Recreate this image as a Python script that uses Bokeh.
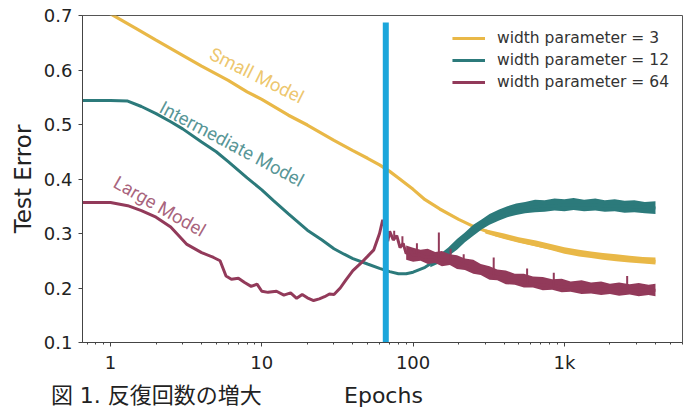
from bokeh.plotting import figure
from bokeh.models import (Range1d, FixedTicker, CustomJSTickFormatter, LogAxis, Legend,
                          LegendItem, ColumnDataSource)
from bokeh.core.properties import value
from bokeh.embed import file_html
from bokeh.resources import INLINE

# ---------------- data ----------------
yellow_epochs = [0.85, 1, 1.5, 2, 3, 4, 6, 8, 10, 15, 20, 30, 40, 50, 60, 70, 80, 100, 120, 150,
                 200, 250, 350, 500, 700, 1000, 1500, 2000, 3000, 4000]
yellow_err = [0.715, 0.703, 0.675, 0.655, 0.627, 0.607, 0.581, 0.560, 0.546, 0.517, 0.499, 0.471,
              0.452, 0.438, 0.426, 0.414, 0.402, 0.381, 0.362, 0.345, 0.326, 0.313, 0.298, 0.287,
              0.277, 0.268, 0.260, 0.256, 0.252, 0.249]
yellow_band_epochs = [300, 400, 500, 650, 800, 1000, 1250, 1500, 1800, 2200, 2700, 3300, 4000]
yellow_band_lo = [0.300, 0.290, 0.283, 0.276, 0.270, 0.263, 0.258, 0.255, 0.252, 0.249, 0.247,
                  0.245, 0.243]
yellow_band_hi = [0.308, 0.300, 0.293, 0.287, 0.281, 0.275, 0.270, 0.267, 0.264, 0.262, 0.259,
                  0.257, 0.256]

teal_epochs = [0.65, 1, 1.3, 1.6, 2, 2.5, 3, 4, 5, 6, 8, 10, 12, 15, 20, 25, 30, 35, 40, 50, 60,
               70, 80, 90, 100, 120, 140, 170, 200, 250, 300, 400, 500, 700, 1000, 1500, 2000,
               3000, 4000]
teal_err = [0.544, 0.544, 0.543, 0.533, 0.520, 0.505, 0.492, 0.468, 0.450, 0.432, 0.402, 0.380,
            0.360, 0.336, 0.306, 0.288, 0.272, 0.262, 0.254, 0.244, 0.236, 0.230, 0.226, 0.226,
            0.229, 0.238, 0.250, 0.266, 0.280, 0.306, 0.322, 0.340, 0.346, 0.350, 0.352, 0.352,
            0.351, 0.349, 0.347]
teal_band_epochs = [130, 150, 170, 195, 220, 250, 285, 320, 370, 420, 480, 550, 640, 740, 860,
                    1000, 1150, 1350, 1600, 1850, 2150, 2500, 2900, 3400, 4000]
teal_band_lo = [0.238, 0.246, 0.258, 0.270, 0.284, 0.296, 0.308, 0.316, 0.324, 0.330, 0.334,
                0.337, 0.339, 0.340, 0.342, 0.341, 0.343, 0.341, 0.342, 0.340, 0.341, 0.338,
                0.339, 0.337, 0.336]
teal_band_hi = [0.250, 0.262, 0.274, 0.290, 0.302, 0.316, 0.326, 0.336, 0.344, 0.350, 0.355,
                0.358, 0.362, 0.361, 0.364, 0.363, 0.365, 0.362, 0.364, 0.361, 0.363, 0.360,
                0.361, 0.358, 0.359]

maroon_epochs = [0.65, 1, 1.3, 1.6, 2, 2.5, 3.2, 4, 4.8, 5.3, 5.8, 6.3, 7, 7.7, 8.5, 9.3, 10, 11,
                 12.5, 14, 15.5, 17, 18.5, 20, 22, 24, 26, 28, 30, 33, 36, 40, 45, 50, 55, 60, 63,
                 66, 68, 70, 74, 78, 82, 86, 90, 95, 100, 110, 120, 135, 150, 170, 200, 250, 320,
                 420, 600, 800, 1200, 2000, 3000, 4000]
maroon_err = [0.357, 0.357, 0.351, 0.342, 0.330, 0.312, 0.280, 0.265, 0.256, 0.250, 0.222, 0.216,
              0.218, 0.210, 0.203, 0.207, 0.194, 0.192, 0.194, 0.187, 0.191, 0.181, 0.188, 0.182,
              0.177, 0.180, 0.184, 0.189, 0.188, 0.200, 0.215, 0.232, 0.245, 0.258, 0.270, 0.300,
              0.325, 0.308, 0.286, 0.304, 0.288, 0.296, 0.274, 0.282, 0.263, 0.270, 0.260, 0.262,
              0.256, 0.257, 0.252, 0.250, 0.246, 0.237, 0.224, 0.216, 0.208, 0.204, 0.200, 0.198,
              0.196, 0.196]
maroon_band_epochs = [90, 100, 112, 125, 140, 155, 175, 195, 220, 250, 280, 320, 360, 410, 470,
                      540, 620, 720, 830, 960, 1100, 1300, 1500, 1750, 2000, 2300, 2700, 3100,
                      3600, 4000]
maroon_band_lo = [0.252, 0.248, 0.250, 0.244, 0.246, 0.240, 0.242, 0.235, 0.233, 0.226, 0.224,
                  0.215, 0.214, 0.207, 0.206, 0.201, 0.201, 0.196, 0.197, 0.192, 0.193, 0.189,
                  0.190, 0.187, 0.189, 0.186, 0.188, 0.185, 0.187, 0.185]
maroon_band_hi = [0.278, 0.274, 0.270, 0.272, 0.266, 0.268, 0.262, 0.260, 0.254, 0.252, 0.244,
                  0.240, 0.234, 0.232, 0.226, 0.226, 0.221, 0.220, 0.216, 0.217, 0.212, 0.214,
                  0.210, 0.212, 0.208, 0.210, 0.207, 0.209, 0.206, 0.208]
spike_epochs = [75, 85, 106, 148, 177, 216, 341, 567, 851, 2600]
spike_base = [0.29, 0.28, 0.262, 0.255, 0.25, 0.245, 0.222, 0.208, 0.203, 0.197]
spike_top = [0.305, 0.295, 0.282, 0.302, 0.272, 0.262, 0.256, 0.236, 0.228, 0.222]

marker_epoch = 66
marker_bottom = 0.1
marker_top = 0.687

legend_labels = ["width parameter = 3", "width parameter = 12", "width parameter = 64"]
curve_label_texts = ["Small Model", "Intermediate Model", "Large Model"]
curve_label_epochs = [4.6, 2.15, 1.07]
curve_label_errs = [0.631, 0.533, 0.396]
curve_label_angles = [-0.46, -0.49, -0.52]

x_major_ticks = [1, 10, 100, 1000]
y_ticks = [0.1, 0.2, 0.3, 0.4, 0.5, 0.6, 0.7]
x_title = "Epochs"
y_title = "Test Error"
caption = "図 1. 反復回数の増大"
caption_epoch = 2.01      # horizontal centre of the caption, in epochs
x_title_epoch = 63.7      # horizontal centre of the x title, in epochs

# ---------------- style ----------------
YELLOW = "#E9B847"
TEAL = "#2C7A7B"
MAROON = "#923A5A"
BLUE = "#1BA6DB"
TEXT = "#222222"

p = figure(width=684, height=410, x_axis_type="log",
           x_range=Range1d(0.653, 6035), y_range=Range1d(0.1, 0.7),
           output_backend="svg", toolbar_location=None,
           min_border_left=82, min_border_right=2, min_border_top=15, min_border_bottom=68)
p.background_fill_color = "white"
p.border_fill_color = "white"
p.outline_line_color = "#555555"
p.outline_line_width = 1
p.xgrid.visible = False
p.ygrid.visible = False

minor = [m * d for d in (0.1, 1, 10, 100, 1000) for m in range(2, 10)]
p.xaxis.ticker = FixedTicker(ticks=x_major_ticks, minor_ticks=minor)
p.xaxis.formatter = CustomJSTickFormatter(
    code="return tick >= 1000 ? Math.round(tick/1000) + 'k' : String(Math.round(tick));")
p.yaxis.ticker = FixedTicker(ticks=y_ticks)

for ax in (p.xaxis[0], p.yaxis[0]):
    ax.axis_line_color = "#444444"
    ax.major_tick_line_color = "#444444"
    ax.minor_tick_line_color = "#444444"
    ax.major_tick_in = 0
    ax.major_tick_out = 4
    ax.minor_tick_in = 0
    ax.minor_tick_out = 2
    ax.major_label_text_font = "DejaVu Sans"
    ax.major_label_text_font_size = "18px"
    ax.major_label_text_color = TEXT
p.xaxis.major_label_standoff = 5
p.yaxis.major_label_standoff = 6
p.yaxis.minor_tick_line_color = None
p.yaxis.axis_label = y_title
p.yaxis.axis_label_text_font = "DejaVu Sans"
p.yaxis.axis_label_text_font_size = "23px"
p.yaxis.axis_label_text_font_style = "normal"
p.yaxis.axis_label_text_color = TEXT
p.yaxis.axis_label_standoff = 5

# second, bare axis below: carries the x title and the figure caption side by side
cap_axis = LogAxis(ticker=FixedTicker(ticks=[caption_epoch, x_title_epoch], minor_ticks=[]),
                   major_label_overrides={caption_epoch: caption, x_title_epoch: x_title})
cap_axis.axis_line_color = None
cap_axis.major_tick_line_color = None
cap_axis.minor_tick_line_color = None
cap_axis.major_tick_out = 0
cap_axis.major_tick_in = 0
cap_axis.major_label_standoff = 7
cap_axis.major_label_text_font = "DejaVu Sans, Noto Sans CJK JP"
cap_axis.major_label_text_font_size = "22px"
cap_axis.major_label_text_color = TEXT
p.add_layout(cap_axis, "below")

# curves with their noisy envelopes
p.varea(x=yellow_band_epochs, y1=yellow_band_lo, y2=yellow_band_hi, fill_color=YELLOW)
r_y = p.line(yellow_epochs, yellow_err, line_width=3.2, line_color=YELLOW)
p.varea(x=teal_band_epochs, y1=teal_band_lo, y2=teal_band_hi, fill_color=TEAL)
r_t = p.line(teal_epochs, teal_err, line_width=3, line_color=TEAL)
p.varea(x=maroon_band_epochs, y1=maroon_band_lo, y2=maroon_band_hi, fill_color=MAROON)
r_m = p.line(maroon_epochs, maroon_err, line_width=3, line_color=MAROON)
p.segment(x0=spike_epochs, y0=spike_base, x1=spike_epochs, y1=spike_top,
          line_color=MAROON, line_width=2)

# blue marker line
p.segment(x0=[marker_epoch], y0=[marker_bottom], x1=[marker_epoch], y1=[marker_top],
          line_color=BLUE, line_width=6)

# curve labels
lab_src = ColumnDataSource(dict(x=curve_label_epochs, y=curve_label_errs, text=curve_label_texts,
                                angle=curve_label_angles, color=[YELLOW, TEAL, MAROON]))
p.text(x="x", y="y", text="text", angle="angle", text_color="color", source=lab_src,
       text_font=value("Roboto"), text_font_size="18.5px", text_alpha=0.8,
       text_align="left", text_baseline="alphabetic")

legend = Legend(items=[LegendItem(label=legend_labels[0], renderers=[r_y]),
                       LegendItem(label=legend_labels[1], renderers=[r_t]),
                       LegendItem(label=legend_labels[2], renderers=[r_m])],
                location="top_right")
legend.background_fill_alpha = 0
legend.border_line_alpha = 0
legend.margin = 7
legend.padding = 6
legend.spacing = 2
legend.glyph_width = 33
legend.glyph_height = 20
legend.label_height = 20
legend.label_standoff = 12
legend.label_text_font = "DejaVu Sans"
legend.label_text_font_size = "15.5px"
legend.label_text_color = "#333333"
p.add_layout(legend)

open("out.html", "w").write(file_html(p, INLINE))
